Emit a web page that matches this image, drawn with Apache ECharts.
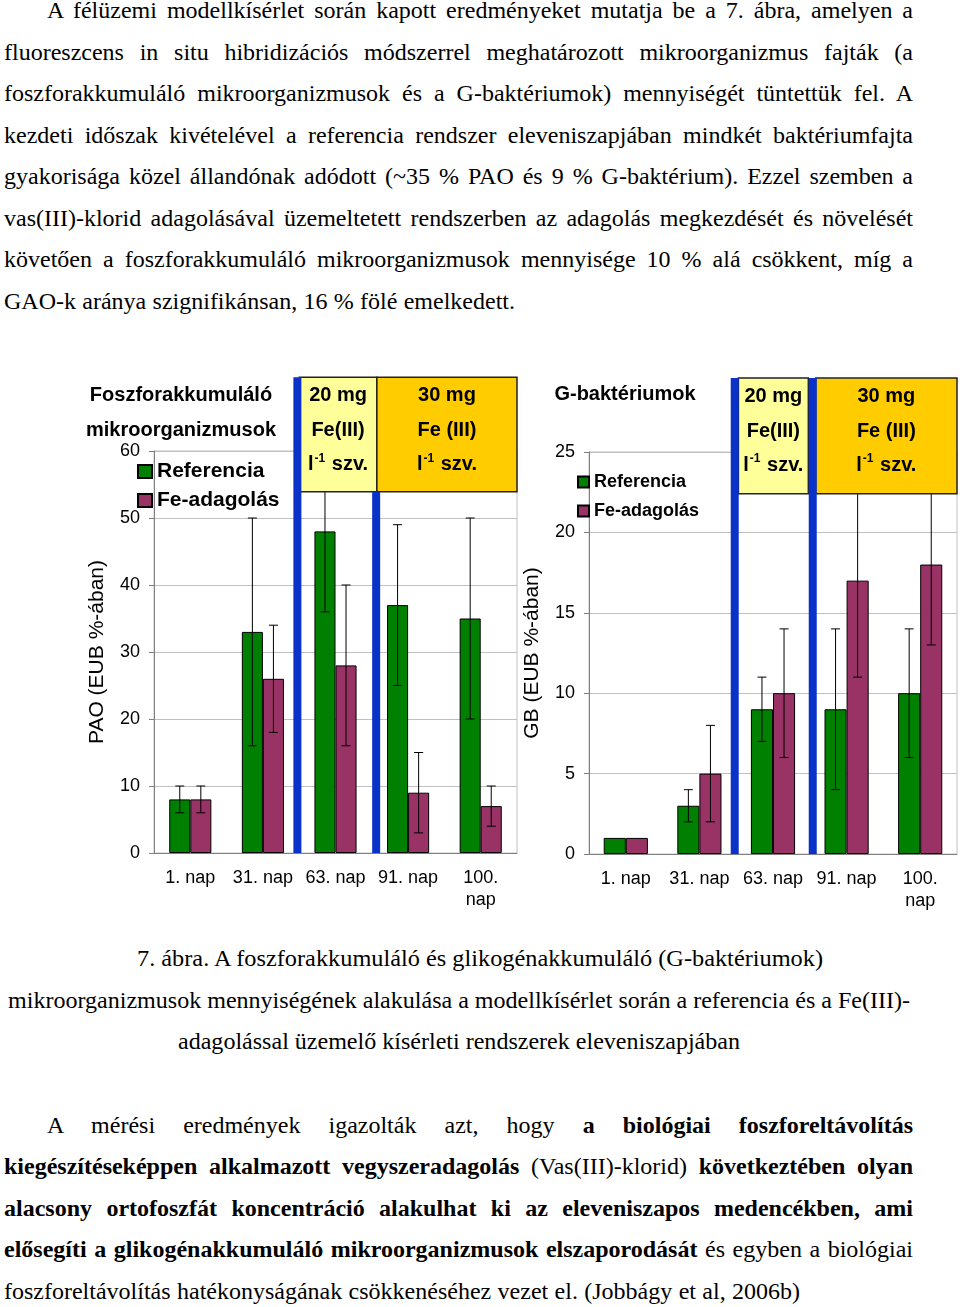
<!DOCTYPE html>
<html>
<head>
<meta charset="utf-8">
<script src="https://cdn.jsdelivr.net/npm/echarts@6/dist/echarts.min.js"></script>
<style>
  html, body { margin: 0; padding: 0; background: #fff; }
  #page { position: relative; width: 960px; height: 1307px; overflow: hidden; }
  #chart { position: absolute; left: 0; top: 360px; width: 960px; height: 570px; }
  .ln { position: absolute; white-space: nowrap; font-family: 'Liberation Serif', 'Times New Roman', serif;
        font-size: 24px; line-height: 30px; color: #000; display: inline-block; }
  .ln b { font-weight: bold; }
</style>
</head>
<body>
<div id="page">
  <!-- paragraph 1 -->
  <div class="ln" data-l="47" data-r="913" data-b="18">A félüzemi modellkísérlet során kapott eredményeket mutatja be a 7. ábra, amelyen a</div>
  <div class="ln" data-l="4" data-r="913" data-b="59.5">fluoreszcens in situ hibridizációs módszerrel meghatározott mikroorganizmus fajták (a</div>
  <div class="ln" data-l="4" data-r="913" data-b="101">foszforakkumuláló mikroorganizmusok és a G-baktériumok) mennyiségét tüntettük fel. A</div>
  <div class="ln" data-l="4" data-r="913" data-b="142.5">kezdeti időszak kivételével a referencia rendszer eleveniszapjában mindkét baktériumfajta</div>
  <div class="ln" data-l="4" data-r="913" data-b="184">gyakorisága közel állandónak adódott (~35 % PAO és 9 % G-baktérium). Ezzel szemben a</div>
  <div class="ln" data-l="4" data-r="913" data-b="225.5">vas(III)-klorid adagolásával üzemeltetett rendszerben az adagolás megkezdését és növelését</div>
  <div class="ln" data-l="4" data-r="913" data-b="267">követően a foszforakkumuláló mikroorganizmusok mennyisége 10 % alá csökkent, míg a</div>
  <div class="ln" data-l="4" data-r="515" data-b="308.5">GAO-k aránya szignifikánsan, 16 % fölé emelkedett.</div>

  <div id="chart"></div>

  <!-- caption -->
  <div class="ln" data-m="scale" data-l="137" data-r="823" data-b="966">7. ábra. A foszforakkumuláló és glikogénakkumuláló (G-baktériumok)</div>
  <div class="ln" data-m="scale" data-l="8" data-r="910" data-b="1008">mikroorganizmusok mennyiségének alakulása a modellkísérlet során a referencia és a Fe(III)-</div>
  <div class="ln" data-m="scale" data-l="178" data-r="740" data-b="1049">adagolással üzemelő kísérleti rendszerek eleveniszapjában</div>

  <!-- paragraph 2 -->
  <div class="ln" data-l="47" data-r="913" data-b="1133">A mérési eredmények igazolták azt, hogy <b>a biológiai foszforeltávolítás</b></div>
  <div class="ln" data-l="4" data-r="913" data-b="1174"><b>kiegészítéseképpen alkalmazott vegyszeradagolás</b> (Vas(III)-klorid) <b>következtében olyan</b></div>
  <div class="ln" data-l="4" data-r="913" data-b="1216"><b>alacsony ortofoszfát koncentráció alakulhat ki az eleveniszapos medencékben, ami</b></div>
  <div class="ln" data-l="4" data-r="913" data-b="1257"><b>elősegíti a glikogénakkumuláló mikroorganizmusok elszaporodását</b> és egyben a biológiai</div>
  <div class="ln" data-l="4" data-r="800" data-b="1299">foszforeltávolítás hatékonyságának csökkenéséhez vezet el. (Jobbágy et al, 2006b)</div>
</div>

<script>
// ---------------- data ----------------
const categories = ['1. nap', '31. nap', '63. nap', '91. nap', '100.\nnap'];
const seriesNames = ['Referencia', 'Fe-adagolás'];

const paoRef     = [8, 33, 48, 37, 35];
const paoRefLow  = [6, 16, 36, 25, 20];
const paoRefHigh = [10, 50, 60, 49, 50];
const paoFe      = [8, 26, 28, 9, 7];
const paoFeLow   = [6, 18, 16, 3, 4];
const paoFeHigh  = [10, 34, 40, 15, 10];

const gbRef      = [1, 3, 9, 9, 10];
const gbRefLow   = [null, 2, 7, 4, 6];
const gbRefHigh  = [null, 4, 11, 14, 14];
const gbFe       = [1, 5, 10, 17, 18];
const gbFeLow    = [null, 2, 6, 11, 13];
const gbFeHigh   = [null, 8, 14, 23, 23];

const paoTicks = [0, 10, 20, 30, 40, 50, 60];
const gbTicks  = [0, 5, 10, 15, 20, 25];

const paoTitle = ['Foszforakkumuláló', 'mikroorganizmusok'];
const gbTitle  = ['G-baktériumok'];
const paoAxisName = 'PAO (EUB %-ában)';
const gbAxisName  = 'GB (EUB %-ában)';

const boxTexts = [
  ['20 mg', 'Fe(III)', 'l{s|-1}{b| szv.}'],
  ['30 mg', 'Fe (III)', 'l{s|-1}{b| szv.}']
];

// ---------------- text layout ----------------
function layoutText() {
  document.querySelectorAll('.ln').forEach(el => {
    const L = +el.dataset.l, R = +el.dataset.r, B = +el.dataset.b;
    el.style.wordSpacing = '0px';
    el.style.transform = '';
    el.style.left = L + 'px';
    el.style.top = (B - 23) + 'px';
    const w = el.getBoundingClientRect().width;
    const target = R - L;
    if (el.dataset.m === 'scale') {
      el.style.transformOrigin = '0 0';
      el.style.transform = 'scaleX(' + (target / w) + ')';
    } else {
      const n = (el.textContent.match(/ /g) || []).length;
      if (n) el.style.wordSpacing = ((target - w) / n) + 'px';
    }
  });
}
layoutText();
if (document.fonts && document.fonts.ready) document.fonts.ready.then(layoutText);

// ---------------- chart ----------------
const FONT = "'Liberation Sans', Arial, Helvetica, sans-serif";
const GREEN = '#008000', PURPLE = '#993366', BLUE = '#0a32c8';
const LIGHTY = '#FFFF99', GOLD = '#FFCC00';

const gapL = 0.42, gapR = 0.40;

function errRender(sign, gap) {
  return function (params, api) {
    const xi = api.value(0), lo = api.value(1), hi = api.value(2);
    const band = api.size([1, 0])[0];
    const barW = band * (1 - gap) / 2;
    const pLo = api.coord([xi, lo]);
    const pHi = api.coord([xi, hi]);
    const x = pLo[0] + sign * barW / 2;
    const cap = 4.5;
    const st = { stroke: '#000', lineWidth: 1 };
    return {
      type: 'group',
      children: [
        { type: 'line', shape: { x1: x, y1: pHi[1], x2: x, y2: pLo[1] }, style: st },
        { type: 'line', shape: { x1: x - cap, y1: pHi[1], x2: x + cap, y2: pHi[1] }, style: st },
        { type: 'line', shape: { x1: x - cap, y1: pLo[1], x2: x + cap, y2: pLo[1] }, style: st }
      ]
    };
  };
}
function errData(lo, hi) {
  const out = [];
  lo.forEach((v, i) => { if (v != null) out.push([i, v, hi[i]]); });
  return out;
}

function blueRender(params, api) {
  const x = api.value(0), yTop = api.value(1);
  const pT = api.coord([x, yTop]);
  const pB = api.coord([x, 0]);
  return { type: 'rect', shape: { x: pT[0] - 4, y: pT[1], width: 8, height: pB[1] - pT[1] }, style: { fill: BLUE } };
}

function boxRender(yTop, yBot) {
  return function (params, api) {
    const x0 = api.value(0), x1 = api.value(1), k = params.dataIndex;
    const pT = api.coord([x0, yTop]);
    const pB = api.coord([x1, yBot]);
    const left = pT[0], top = pT[1], w = pB[0] - pT[0], h = pB[1] - pT[1];
    const cx = left + w / 2;
    const offs = [18, 53, 87];
    const children = [{
      type: 'rect', shape: { x: left, y: top, width: w, height: h },
      style: { fill: k === 0 ? LIGHTY : GOLD, stroke: '#222', lineWidth: 1.5 }
    }];
    boxTexts[k].forEach((t, i) => {
      children.push({
        type: 'text',
        style: {
          x: cx, y: top + offs[i], text: t, fill: '#000',
          fontSize: 20, fontWeight: 'bold', fontFamily: FONT,
          align: 'center', verticalAlign: 'middle', textAlign: 'center', textVerticalAlign: 'middle',
          rich: {
            s: { fontSize: 12, fontWeight: 'bold', fontFamily: FONT, fill: '#000', verticalAlign: 'top', lineHeight: 12, padding: [0, 1, 0, 1] },
            b: { fontSize: 20, fontWeight: 'bold', fontFamily: FONT, fill: '#000', lineHeight: 24 }
          }
        }
      });
    });
    return { type: 'group', children };
  };
}

function catAxis(gridIndex) {
  return {
    type: 'category', gridIndex, data: categories,
    axisLine: { lineStyle: { color: '#808080', width: 1 } },
    axisTick: { length: 5, lineStyle: { color: '#808080' } },
    axisLabel: { color: '#000', fontSize: 18, fontFamily: FONT, margin: 14, lineHeight: 22, interval: 0 }
  };
}
function valAxis(gridIndex, ticks, name) {
  return {
    type: 'value', gridIndex, min: ticks[0], max: ticks[ticks.length - 1], interval: ticks[1] - ticks[0],
    name, nameLocation: 'middle', nameGap: 46,
    nameTextStyle: { color: '#000', fontSize: 21, fontFamily: FONT },
    axisLine: { show: true, lineStyle: { color: '#808080' } },
    axisTick: { show: true, length: 5, lineStyle: { color: '#808080' } },
    splitLine: { show: true, lineStyle: { color: '#c0c0c0' } },
    axisLabel: { color: '#000', fontSize: 18, fontFamily: FONT, margin: 14 }
  };
}
function hiddenX(gridIndex) {
  return { type: 'value', gridIndex, min: 0, max: 5, show: false };
}

const barStyle = c => ({ color: c, borderColor: '#000', borderWidth: 1 });

const chart = echarts.init(document.getElementById('chart'), null, { renderer: 'canvas' });
const option = {
  backgroundColor: 'transparent',
  animation: false,
  textStyle: { fontFamily: FONT },
  grid: [
    { left: 154, top: 91, width: 363, height: 402, show: true, borderColor: '#c0c0c0', borderWidth: 1, backgroundColor: 'transparent' },
    { left: 589, top: 92, width: 368, height: 402, show: true, borderColor: '#c0c0c0', borderWidth: 1, backgroundColor: 'transparent' }
  ],
  xAxis: [catAxis(0), hiddenX(0), catAxis(1), hiddenX(1)],
  yAxis: [valAxis(0, paoTicks, paoAxisName), valAxis(1, gbTicks, gbAxisName)],
  legend: [
    {
      orient: 'vertical', left: 137, top: 101, padding: 0, itemWidth: 14, itemHeight: 13, itemGap: 8,
      data: seriesNames, icon: 'rect',
      textStyle: { fontSize: 21, fontWeight: 'bold', color: '#000', fontFamily: FONT }
    },
    {
      orient: 'vertical', left: 577, top: 113, padding: 0, itemWidth: 11, itemHeight: 11, itemGap: 11,
      data: seriesNames, icon: 'rect',
      textStyle: { fontSize: 18, fontWeight: 'bold', color: '#000', fontFamily: FONT }
    }
  ],
  graphic: [
    { type: 'text', x: 181, y: 35, z: 10, style: { text: paoTitle[0], fill: '#000', font: 'bold 20px ' + FONT, align: 'center', verticalAlign: 'middle', textAlign: 'center', textVerticalAlign: 'middle' } },
    { type: 'text', x: 181, y: 70, z: 10, style: { text: paoTitle[1], fill: '#000', font: 'bold 20px ' + FONT, align: 'center', verticalAlign: 'middle', textAlign: 'center', textVerticalAlign: 'middle' } },
    { type: 'text', x: 625, y: 34, z: 10, style: { text: gbTitle[0], fill: '#000', font: 'bold 20px ' + FONT, align: 'center', verticalAlign: 'middle', textAlign: 'center', textVerticalAlign: 'middle' } }
  ],
  series: [
    { type: 'bar', name: seriesNames[0], xAxisIndex: 0, yAxisIndex: 0, data: paoRef, barGap: '0%', barCategoryGap: (gapL * 100) + '%', itemStyle: barStyle(GREEN), z: 2 },
    { type: 'bar', name: seriesNames[1], xAxisIndex: 0, yAxisIndex: 0, data: paoFe, barGap: '0%', barCategoryGap: (gapL * 100) + '%', itemStyle: barStyle(PURPLE), z: 2 },
    { type: 'bar', name: seriesNames[0], xAxisIndex: 2, yAxisIndex: 1, data: gbRef, barGap: '0%', barCategoryGap: (gapR * 100) + '%', itemStyle: barStyle(GREEN), z: 2 },
    { type: 'bar', name: seriesNames[1], xAxisIndex: 2, yAxisIndex: 1, data: gbFe, barGap: '0%', barCategoryGap: (gapR * 100) + '%', itemStyle: barStyle(PURPLE), z: 2 },

    { type: 'custom', xAxisIndex: 0, yAxisIndex: 0, renderItem: errRender(-1, gapL), data: errData(paoRefLow, paoRefHigh), z: 3, clip: false, silent: true },
    { type: 'custom', xAxisIndex: 0, yAxisIndex: 0, renderItem: errRender(1, gapL), data: errData(paoFeLow, paoFeHigh), z: 3, clip: false, silent: true },
    { type: 'custom', xAxisIndex: 2, yAxisIndex: 1, renderItem: errRender(-1, gapR), data: errData(gbRefLow, gbRefHigh), z: 3, clip: false, silent: true },
    { type: 'custom', xAxisIndex: 2, yAxisIndex: 1, renderItem: errRender(1, gapR), data: errData(gbFeLow, gbFeHigh), z: 3, clip: false, silent: true },

    { type: 'custom', xAxisIndex: 1, yAxisIndex: 0, renderItem: boxRender(71, 53.9), data: [[2.0, 3.07], [3.07, 5.0]], z: 5, clip: false, silent: true },
    { type: 'custom', xAxisIndex: 3, yAxisIndex: 1, renderItem: boxRender(29.6, 22.4), data: [[2.03, 2.98], [3.08, 5.0]], z: 5, clip: false, silent: true },

    { type: 'custom', xAxisIndex: 1, yAxisIndex: 0, renderItem: blueRender, data: [[1.975, 71], [3.06, 53.9]], z: 6, clip: false, silent: true },
    { type: 'custom', xAxisIndex: 3, yAxisIndex: 1, renderItem: blueRender, data: [[1.98, 29.6], [3.04, 29.6]], z: 6, clip: false, silent: true }
  ]
};
chart.setOption(option);
</script>
</body>
</html>
